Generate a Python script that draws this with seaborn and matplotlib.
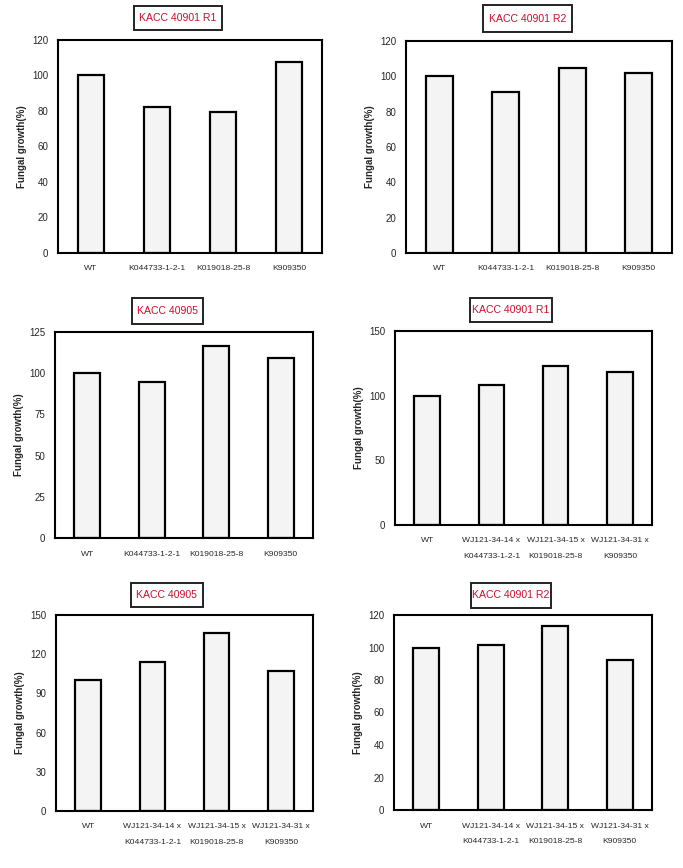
import matplotlib
matplotlib.use("Agg")
import matplotlib.pyplot as plt
from matplotlib.patches import Rectangle
import seaborn as sns

# --- data ---
labels_single = ["WT", "K044733-1-2-1", "K019018-25-8", "K909350"]
labels_cross = ["WT", "WJ121-34-14 x\nK044733-1-2-1",
                "WJ121-34-15 x\nK019018-25-8", "WJ121-34-31 x\nK909350"]

titles = ["KACC 40901 R1", "KACC 40901 R2", "KACC 40905",
          "KACC 40901 R1", "KACC 40905", "KACC 40901 R2"]

growth_r1 = [100, 82, 79.2, 107.4]
growth_r2 = [100, 91, 105, 101.8]
growth_40905 = [100, 94.8, 116.8, 109.2]
cross_r1 = [100, 108.3, 123.3, 118.5]
cross_40905 = [100, 114.4, 136.5, 107.4]
cross_r2 = [100, 101.3, 113, 92.3]

yticks_list = [list(range(0, 121, 20)), list(range(0, 121, 20)),
               list(range(0, 126, 25)), list(range(0, 151, 50)),
               list(range(0, 151, 30)), list(range(0, 121, 20))]

# --- layout (pixels of the 683x868 figure) ---
W, H = 683, 868
axes_px = [(58, 322, 40, 253), (406, 672, 41, 253),
           (55, 313, 332, 538), (395, 652, 331, 525),
           (56, 313, 615, 811), (394, 652, 615, 810)]
# title boxes: left, right, top, bottom
title_px = [(134, 222, 6, 30), (483, 572, 5, 32), (132, 203, 298, 324),
            (470, 552, 298, 322), (131, 203, 583, 607), (471, 551, 583, 608)]

sns.set_style("white")
plt.rcParams['font.family'] = ['Liberation Sans', 'DejaVu Sans']

panels = [(labels_single, growth_r1), (labels_single, growth_r2),
          (labels_single, growth_40905), (labels_cross, cross_r1),
          (labels_cross, cross_40905), (labels_cross, cross_r2)]

fig = plt.figure(figsize=(W / 100, H / 100), dpi=100)
fig.patch.set_facecolor("white")

for i, (cats, vals) in enumerate(panels):
    l, r, t, b = axes_px[i]
    ax = fig.add_axes([l / W, 1 - b / H, (r - l) / W, (b - t) / H])
    sns.barplot(x=cats, y=vals, color="#f4f4f4", saturation=1,
                edgecolor="black", linewidth=1.6, width=0.4, ax=ax)
    yt = yticks_list[i]
    ax.set_ylim(0, yt[-1])
    ax.set_yticks(yt)
    ax.set_xlim(-0.5, len(cats) - 0.5)
    ax.set_xticks([0.5, 1.5, 2.5], minor=True)
    ax.tick_params(axis="x", which="major", length=0, pad=9)
    ax.tick_params(axis="x", which="minor", direction="in", length=3,
                   width=1.2, color="black")
    ax.tick_params(axis="y", length=0, pad=7, labelsize=7)
    for sp in ax.spines.values():
        sp.set_visible(True)
        sp.set_color("black")
        sp.set_linewidth(1.5)
    ax.set_ylabel("Fungal growth(%)", fontsize=7, fontweight="bold", labelpad=4)
    ax.set_xlabel("")
    ax.set_facecolor("white")
    # labels last, so nothing resets their spacing
    ax.set_xticks(range(len(cats)))
    ax.set_xticklabels(cats, fontsize=6.1, linespacing=2.7)

    # boxed red title above each panel
    tl, tr, tt, tb = title_px[i]
    fig.patches.append(Rectangle((tl / W, 1 - tb / H), (tr - tl) / W, (tb - tt) / H,
                                 transform=fig.transFigure, facecolor="white",
                                 edgecolor="#222222", linewidth=1.4))
    fig.text((tl + tr) / 2 / W, 1 - (tt + tb) / 2 / H, titles[i],
             ha="center", va="center", fontsize=7.6, color="#c8102e")

fig.savefig("out.png", dpi=100, facecolor="white")
